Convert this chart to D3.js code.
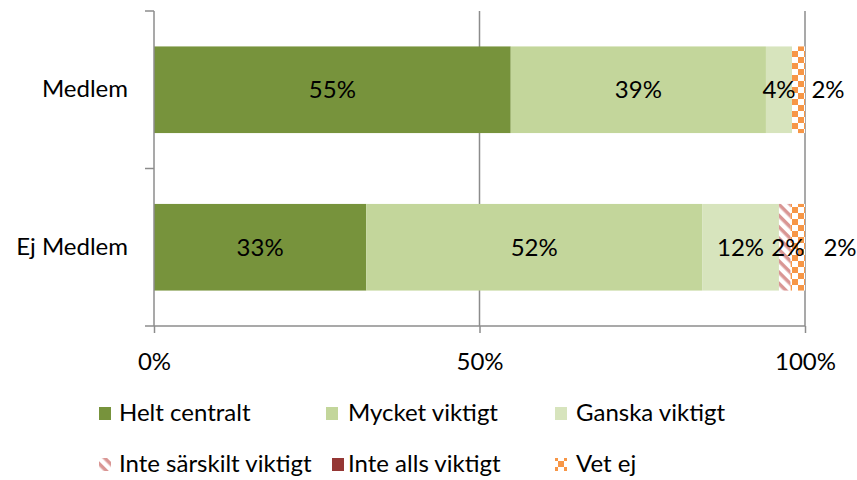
<!DOCTYPE html>
<html>
<head>
<meta charset="utf-8">
<script src="https://cdn.jsdelivr.net/npm/d3@7"></script>
<style>
  body { margin: 0; background: #fff; }
  text { font-family: Lato, "Open Sans", sans-serif; fill: #000; }
</style>
</head>
<body>
<svg id="chart" width="857" height="480"></svg>
<script>
// data
const categories = ["Medlem", "Ej Medlem"];
const series = ["Helt centralt", "Mycket viktigt", "Ganska viktigt",
  "Inte särskilt viktigt", "Inte alls viktigt", "Vet ej"];
const helt = [54.8, 32.6];
const mycket = [39.2, 51.6];
const ganska = [4.0, 11.8];
const inteSarskilt = [0, 1.8];
const inteAlls = [0, 0];
const vetEj = [2.0, 2.2];
const labels = [
  ["55%", "39%", "4%", "", "", "2%"],
  ["33%", "52%", "12%", "2%", "", "2%"]
];
const xTicks = [0, 50, 100];

const values = [helt, mycket, ganska, inteSarskilt, inteAlls, vetEj];

const svg = d3.select("#chart");
const width = 857, height = 480;
const fontSize = "24px";
let margin = { top: 11, left: 154, right: 52, bottom: 154 };
let bodyWidth = width - margin.left - margin.right;
let bodyHeight = height - margin.top - margin.bottom;

// patterns
const defs = svg.append("defs");
let stripes = defs.append("pattern")
  .attr("id", "stripes")
  .attr("patternUnits", "userSpaceOnUse")
  .attr("width", 8).attr("height", 8)
  .attr("patternTransform", "rotate(45)");
stripes.append("rect").attr("width", 8).attr("height", 8).attr("fill", "#fff");
stripes.append("rect").attr("width", 8).attr("height", 3.5).attr("fill", "#D99694");

let checks = defs.append("pattern")
  .attr("id", "checks")
  .attr("patternUnits", "userSpaceOnUse")
  .attr("width", 12).attr("height", 12)
  .attr("x", 0).attr("y", 3);
checks.append("rect").attr("width", 12).attr("height", 12).attr("fill", "#fff");
checks.append("rect").attr("width", 6).attr("height", 6).attr("fill", "#F79646");
checks.append("rect").attr("x", 6).attr("y", 6).attr("width", 6).attr("height", 6).attr("fill", "#F79646");

const fills = ["#77933C", "#C3D69B", "#D7E4BD", "url(#stripes)", "#953735", "url(#checks)"];

let xScale = d3.scaleLinear()
  .domain([0, 100])
  .range([margin.left, margin.left + bodyWidth]);

let yScale = d3.scaleBand()
  .domain(categories)
  .range([margin.top, margin.top + bodyHeight])
  .paddingInner(0.45)
  .paddingOuter(0.225);

// stacked layout
let table = categories.map((c, i) => {
  let row = { category: c };
  series.forEach((s, j) => row[s] = values[j][i]);
  return row;
});
let stacked = d3.stack().keys(series)(table);

const axisColor = "#8c8c8c";

// gridlines
svg.append("g")
  .selectAll("line")
  .data(xTicks.slice(1))
  .enter().append("line")
  .attr("x1", d => xScale(d)).attr("x2", d => xScale(d))
  .attr("y1", margin.top).attr("y2", margin.top + bodyHeight)
  .attr("stroke", axisColor).attr("stroke-width", 1.5);

// bars
stacked.forEach((layer, j) => {
  svg.append("g")
    .selectAll("rect")
    .data(layer)
    .enter().append("rect")
    .attr("x", d => xScale(d[0]))
    .attr("y", d => yScale(d.data.category))
    .attr("width", d => xScale(d[1]) - xScale(d[0]))
    .attr("height", yScale.bandwidth())
    .attr("fill", fills[j]);
});

// data labels
const outsideShift = [23, 35];
stacked.forEach((layer, j) => {
  svg.append("g")
    .selectAll("text")
    .data(layer)
    .enter().append("text")
    .attr("x", (d, i) => series[j] === "Vet ej"
      ? xScale(100) + outsideShift[i]
      : (xScale(d[0]) + xScale(d[1])) / 2 + (series[j] === "Inte särskilt viktigt" ? 3 : 0))
    .attr("y", d => yScale(d.data.category) + yScale.bandwidth() / 2)
    .attr("dy", "0.35em")
    .attr("text-anchor", "middle")
    .style("font-size", fontSize)
    .text((d, i) => labels[i][j]);
});

// x axis
let axisX = d3.axisBottom(xScale)
  .tickValues(xTicks)
  .tickSize(7)
  .tickPadding(20)
  .tickFormat(d => d + "%");
let gx = svg.append("g")
  .attr("transform", `translate(0,${margin.top + bodyHeight})`)
  .call(axisX);
gx.select(".domain").attr("stroke", axisColor).attr("stroke-width", 1.5)
  .attr("d", `M${xScale(0)},0H${xScale(100)}`);
gx.selectAll(".tick line").attr("stroke", axisColor).attr("stroke-width", 1.5);
gx.selectAll(".tick text").style("font-size", fontSize).style("font-family", "Lato, sans-serif").attr("fill", "#000");

// y axis
let yAxis = d3.axisLeft(yScale).tickSize(0).tickPadding(26);
let gy = svg.append("g")
  .attr("transform", `translate(${margin.left},0)`)
  .call(yAxis);
gy.select(".domain").attr("stroke", axisColor).attr("stroke-width", 1.5)
  .attr("d", `M0,${margin.top}V${margin.top + bodyHeight}`);
gy.selectAll(".tick text").style("font-size", fontSize).style("font-family", "Lato, sans-serif").attr("fill", "#000");

// category boundary ticks
let bounds = d3.range(categories.length + 1).map(i => margin.top + i * (bodyHeight / categories.length));
gy.selectAll("line.bound")
  .data(bounds)
  .enter().append("line")
  .attr("class", "bound")
  .attr("x1", -9).attr("x2", 0)
  .attr("y1", d => d).attr("y2", d => d)
  .attr("stroke", axisColor).attr("stroke-width", 1.5);

// legend: [marker x, text x, y]
const legendPos = [[99, 119, 413], [326, 348, 413], [555, 576, 413],
                   [99, 119, 464], [332, 348, 464], [555, 576, 464]];
let legend = svg.append("g")
  .selectAll("g")
  .data(series)
  .enter().append("g")
  .attr("transform", (d, i) => `translate(0,${legendPos[i][2]})`);
legend.append("rect")
  .attr("x", (d, i) => legendPos[i][0]).attr("y", -6)
  .attr("width", 12).attr("height", 13)
  .attr("fill", (d, i) => fills[i]);
legend.append("text")
  .attr("x", (d, i) => legendPos[i][1])
  .attr("dy", "0.35em")
  .style("font-size", fontSize)
  .text(d => d);
</script>
</body>
</html>
